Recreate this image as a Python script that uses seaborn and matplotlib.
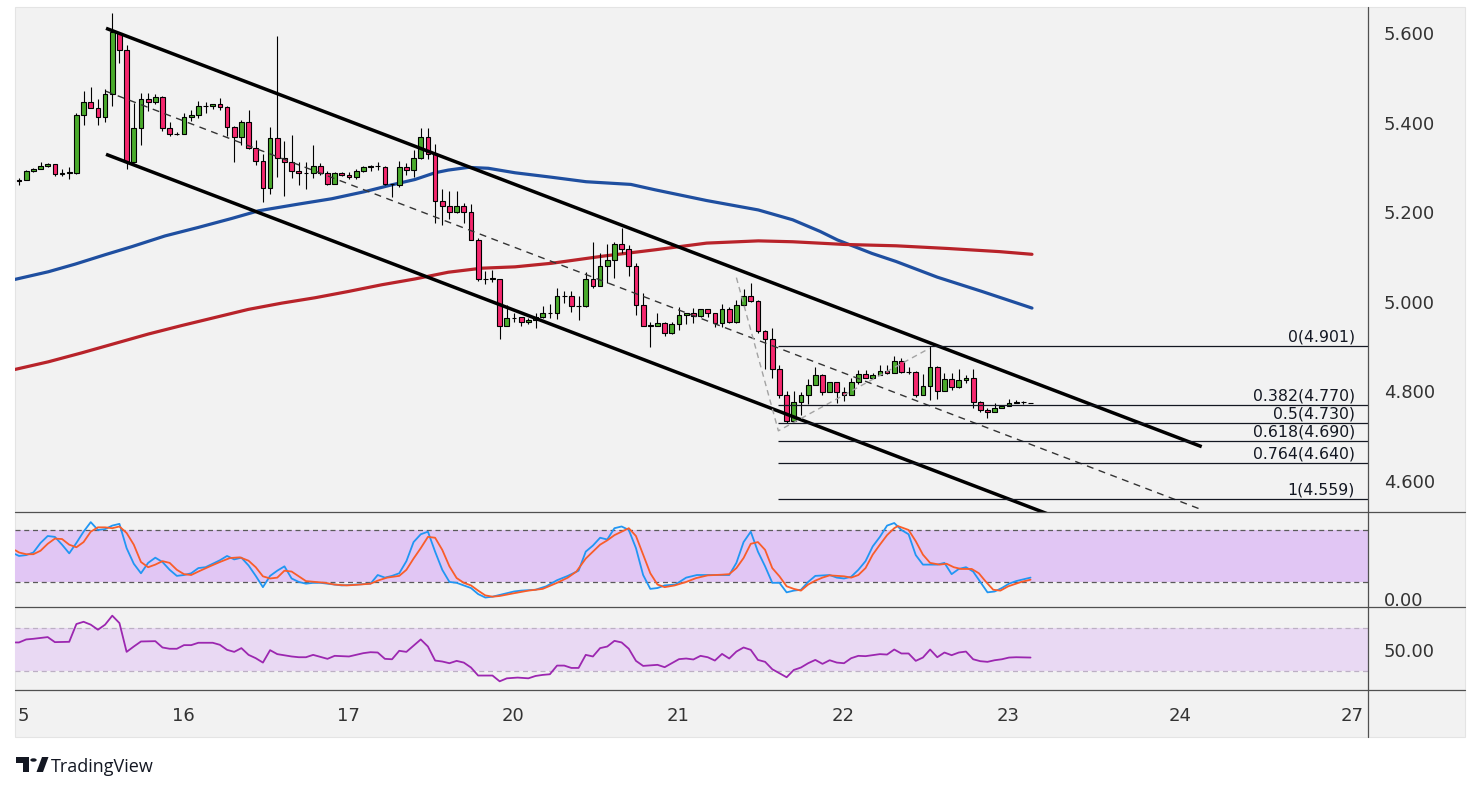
import numpy as np
import seaborn as sns
import matplotlib.pyplot as plt
from matplotlib.patches import Rectangle, Polygon, Circle
from matplotlib.lines import Line2D
from matplotlib.transforms import Bbox, TransformedBbox

# hourly candles, bar index 0..141
opens = [5.271, 5.271, 5.291, 5.296, 5.303, 5.307, 5.286, 5.287, 5.288, 5.418,
         5.445, 5.432, 5.412, 5.463, 5.601, 5.562, 5.313, 5.387, 5.452, 5.447,
         5.456, 5.387, 5.374, 5.374, 5.413, 5.416, 5.436, 5.436, 5.441, 5.434,
         5.390, 5.368, 5.401, 5.343, 5.314, 5.253, 5.365, 5.320, 5.311, 5.291,
         5.287, 5.287, 5.302, 5.287, 5.264, 5.287, 5.282, 5.279, 5.291, 5.300,
         5.302, 5.300, 5.262, 5.260, 5.300, 5.294, 5.322, 5.367, 5.330, 5.224,
         5.213, 5.200, 5.213, 5.200, 5.139, 5.050, 5.051, 5.051, 4.945, 4.963,
         4.965, 4.954, 4.959, 4.967, 4.974, 4.974, 5.012, 5.012, 4.990, 4.990,
         5.050, 5.035, 5.081, 5.093, 5.128, 5.117, 5.081, 4.992, 4.947, 4.947,
         4.952, 4.931, 4.950, 4.970, 4.974, 4.968, 4.983, 4.974, 4.952, 4.985,
         4.954, 4.992, 5.012, 5.001, 4.934, 4.918, 4.851, 4.791, 4.735, 4.776,
         4.791, 4.814, 4.836, 4.798, 4.820, 4.798, 4.793, 4.822, 4.838, 4.831,
         4.836, 4.845, 4.840, 4.867, 4.843, 4.843, 4.793, 4.811, 4.854, 4.800,
         4.827, 4.809, 4.825, 4.831, 4.776, 4.758, 4.753, 4.762, 4.767, 4.773,
         4.776, 4.774]
highs = [5.277, 5.294, 5.298, 5.311, 5.309, 5.307, 5.297, 5.300, 5.421, 5.471,
         5.479, 5.452, 5.474, 5.645, 5.602, 5.573, 5.444, 5.465, 5.466, 5.463,
         5.460, 5.401, 5.379, 5.421, 5.428, 5.448, 5.447, 5.441, 5.454, 5.437,
         5.393, 5.406, 5.428, 5.361, 5.331, 5.391, 5.593, 5.359, 5.372, 5.313,
         5.311, 5.349, 5.309, 5.293, 5.289, 5.290, 5.290, 5.296, 5.303, 5.306,
         5.312, 5.302, 5.264, 5.314, 5.309, 5.339, 5.389, 5.389, 5.352, 5.251,
         5.247, 5.247, 5.221, 5.218, 5.142, 5.069, 5.072, 5.051, 4.993, 4.974,
         4.965, 4.963, 4.974, 4.991, 4.995, 5.031, 5.024, 5.023, 5.012, 5.066,
         5.134, 5.110, 5.129, 5.134, 5.164, 5.126, 5.086, 5.020, 4.954, 4.974,
         4.954, 4.954, 4.988, 4.976, 4.986, 4.985, 4.985, 4.974, 4.994, 4.988,
         5.004, 5.028, 5.043, 5.004, 4.936, 4.941, 4.858, 4.800, 4.800, 4.798,
         4.827, 4.854, 4.838, 4.820, 4.822, 4.809, 4.829, 4.847, 4.847, 4.840,
         4.860, 4.860, 4.878, 4.874, 4.854, 4.845, 4.838, 4.901, 4.856, 4.840,
         4.840, 4.849, 4.836, 4.851, 4.778, 4.762, 4.773, 4.769, 4.782, 4.780,
         4.778, 4.775]
lows = [5.260, 5.271, 5.290, 5.296, 5.301, 5.281, 5.281, 5.275, 5.285, 5.395,
        5.432, 5.395, 5.402, 5.436, 5.532, 5.297, 5.309, 5.349, 5.425, 5.441,
        5.381, 5.369, 5.372, 5.374, 5.404, 5.411, 5.421, 5.430, 5.428, 5.371,
        5.311, 5.349, 5.340, 5.305, 5.222, 5.240, 5.279, 5.237, 5.276, 5.261,
        5.251, 5.276, 5.283, 5.260, 5.264, 5.281, 5.273, 5.273, 5.290, 5.291,
        5.294, 5.260, 5.235, 5.257, 5.282, 5.279, 5.318, 5.319, 5.175, 5.171,
        5.185, 5.198, 5.175, 5.137, 5.047, 5.039, 5.044, 4.916, 4.945, 4.956,
        4.946, 4.950, 4.942, 4.963, 4.964, 4.962, 4.997, 4.977, 4.960, 4.988,
        5.031, 5.035, 5.041, 5.054, 5.110, 5.058, 4.970, 4.947, 4.900, 4.947,
        4.924, 4.929, 4.937, 4.950, 4.952, 4.965, 4.967, 4.943, 4.943, 4.953,
        4.952, 4.988, 5.000, 4.930, 4.849, 4.831, 4.786, 4.729, 4.733, 4.747,
        4.771, 4.814, 4.793, 4.798, 4.773, 4.778, 4.793, 4.816, 4.829, 4.829,
        4.836, 4.838, 4.840, 4.840, 4.838, 4.787, 4.791, 4.780, 4.782, 4.800,
        4.802, 4.807, 4.818, 4.764, 4.753, 4.740, 4.753, 4.762, 4.767, 4.773,
        4.771, 4.773]
closes = [5.270, 5.291, 5.296, 5.302, 5.308, 5.285, 5.287, 5.289, 5.418, 5.445,
          5.432, 5.412, 5.463, 5.602, 5.562, 5.313, 5.387, 5.452, 5.447, 5.456,
          5.387, 5.374, 5.374, 5.413, 5.417, 5.436, 5.436, 5.441, 5.434, 5.390,
          5.368, 5.401, 5.343, 5.314, 5.253, 5.365, 5.320, 5.311, 5.291, 5.287,
          5.287, 5.302, 5.287, 5.264, 5.287, 5.282, 5.279, 5.291, 5.300, 5.302,
          5.302, 5.262, 5.262, 5.300, 5.294, 5.322, 5.367, 5.330, 5.224, 5.213,
          5.200, 5.213, 5.200, 5.139, 5.050, 5.051, 5.052, 4.945, 4.963, 4.964,
          4.954, 4.959, 4.967, 4.974, 4.975, 5.012, 5.012, 4.990, 4.990, 5.050,
          5.035, 5.081, 5.093, 5.128, 5.117, 5.081, 4.992, 4.947, 4.947, 4.952,
          4.931, 4.950, 4.970, 4.974, 4.968, 4.983, 4.974, 4.952, 4.985, 4.954,
          4.992, 5.012, 5.001, 4.934, 4.918, 4.851, 4.791, 4.735, 4.776, 4.791,
          4.814, 4.836, 4.798, 4.820, 4.798, 4.793, 4.822, 4.838, 4.831, 4.836,
          4.845, 4.840, 4.867, 4.843, 4.843, 4.793, 4.811, 4.854, 4.800, 4.827,
          4.809, 4.825, 4.831, 4.776, 4.758, 4.753, 4.762, 4.767, 4.773, 4.776,
          4.776, 4.774]

# moving averages (sampled along the curve)
ma_blue_x = [-0.56, 4.08, 7.81, 11.99, 15.71, 20.35, 24.99, 29.65, 33.36, 38.93, 43.59, 48.23,
             51.95, 55.2, 57.99, 59.84, 62.63, 65.42, 69.14, 74.25, 79.05, 85.29, 88.65, 95.85,
             103.05, 107.85, 111.68, 114.09, 118.89, 122.25, 128.0, 134.25, 141.2]
ma_blue = [5.050, 5.067, 5.084, 5.105, 5.123, 5.147, 5.166, 5.186, 5.203, 5.218, 5.230, 5.246,
           5.261, 5.273, 5.288, 5.294, 5.300, 5.298, 5.288, 5.278, 5.268, 5.262, 5.250, 5.226,
           5.205, 5.183, 5.157, 5.138, 5.108, 5.090, 5.055, 5.023, 4.986]
ma_red_x = [-0.56, 4.08, 8.74, 13.38, 18.02, 22.68, 27.32, 31.96, 36.62, 41.26, 45.9, 50.56,
            55.2, 59.84, 64.5, 69.14, 74.25, 81.45, 88.65, 95.85, 103.05, 107.85, 115.05,
            122.25, 129.45, 136.65, 141.2]
ma_red = [4.849, 4.866, 4.886, 4.907, 4.928, 4.947, 4.965, 4.983, 4.997, 5.009, 5.023, 5.038,
          5.051, 5.066, 5.075, 5.078, 5.086, 5.102, 5.116, 5.131, 5.136, 5.134, 5.128,
          5.125, 5.119, 5.112, 5.106]

# stochastic %K / %D
k_x = [-0.5, 0, 1, 2, 3, 4, 5, 6, 7, 8, 9, 10, 11, 12, 13, 14, 15, 16, 17, 18, 19, 20, 21, 22, 23, 24,
       25, 26, 27, 28, 29, 30, 31, 32, 33, 34, 35, 36, 37, 38, 39, 40, 41, 42, 43, 44, 45, 47, 49, 50,
       51, 52, 53, 54, 55, 56, 57, 58, 59, 60, 61, 62, 63, 64, 65, 66, 67, 68, 69, 70, 72, 73.5, 75,
       76.5, 78, 79, 80, 81, 82, 83, 84, 85, 86, 87, 88, 89, 90, 91.5, 93, 94.5, 96, 97, 99, 100, 101,
       102, 103, 104, 105, 106, 107, 108, 109, 110, 111, 113, 114, 115, 116, 117, 118, 119, 120, 121,
       122, 123, 124, 125, 126, 128, 129, 130, 131, 132, 133, 134, 135, 136, 137, 138, 139, 141]
k_val = [52, 50, 51, 54, 65, 73, 72, 63, 53, 65, 78, 89, 80, 81, 85, 87, 59, 41, 30, 42,
         48, 43, 34, 27, 28, 30, 36, 37, 41, 45, 50, 46, 48, 39, 27, 14, 27, 33, 38, 24,
         20, 18, 19, 19, 18, 17, 16, 17, 18, 28, 25, 27, 30, 44, 66, 75, 78, 55, 34, 20,
         19, 16, 13, 6, 2, 3, 5, 7, 9, 10, 11, 15, 22, 27, 33, 55, 62, 71, 69, 82,
         84, 80, 59, 28, 12, 13, 16, 17, 25, 28, 28, 28, 28, 42, 66, 78, 55, 38, 19, 19,
         8, 10, 11, 20, 27, 28, 25, 24, 26, 34, 44, 61, 72, 85, 88, 80, 75, 51, 40, 40,
         42, 29, 35, 37, 32, 20, 8, 9, 13, 18, 21, 25]
d_x = [-0.5, 0, 1, 2, 3, 4, 5, 6, 7, 8, 9, 10, 11, 12, 13, 14, 15, 16, 17, 18, 19, 20, 21, 22, 23, 24,
       25, 26.6, 28, 29.4, 30.8, 32, 33, 34, 35, 36, 37, 38, 39, 40, 41.3, 42.7, 44, 45.7, 47.5, 49, 50,
       51.3, 53, 54, 55, 56, 57, 58, 59, 60, 61, 62, 63, 64, 65, 66, 67, 69, 71, 73, 75, 76.5, 77.7, 79,
       80, 81, 82, 83, 84, 85, 86, 87, 88, 89, 90, 91.4, 93, 94.4, 96, 98, 99, 100, 101, 102, 103, 104,
       105, 106, 107, 108, 109, 110, 111, 112, 113, 115, 116, 117, 118, 119, 120, 121, 122, 122.5, 124,
       125, 126, 127, 128.3, 129.3, 130.3, 131.3, 132.8, 133.8, 134.8, 135.8, 136.8, 137.9, 139.7, 141]
d_val = [56.5, 54, 52, 52, 56, 64, 70, 69.5, 63, 60, 66, 78, 83, 83, 82, 84, 76.5, 63, 43, 37,
         40, 44, 42, 34, 29, 28, 32, 38, 43, 47.6, 48.4, 44.5, 37, 26.5, 24, 25, 33, 32, 26.5, 21,
         20, 19, 17, 16, 17, 18, 21.5, 25, 27, 34, 47, 59, 72, 71, 57, 38, 24.5, 19, 16, 10,
         4.5, 3, 3.8, 7, 10, 12, 19, 25, 32, 47, 55, 63, 68, 74, 78, 82, 73, 51.5, 30, 17,
         14, 16, 20, 24.5, 27.6, 28.4, 29, 36, 47.6, 64, 66, 57, 36, 26.5, 15, 12, 10, 17, 21.5, 25,
         27.6, 26.5, 25, 28, 36, 51.5, 63, 74, 82, 84.5, 80, 67, 51.5, 42, 40, 41, 37, 35, 35, 30,
         20, 11, 10, 15, 20, 22.6]

# RSI
rsi_x = [-0.5, 0, 1, 2, 4, 5, 7, 8, 9, 10, 11, 12, 13, 14, 15, 16, 17, 19, 20, 21, 22, 23, 24, 25, 27,
         28, 29, 30, 31, 32, 33, 34, 35, 36, 38, 39, 40, 41, 42, 43, 44, 46, 47, 48, 49, 50, 51, 52, 53,
         54, 56, 57, 58, 59, 60, 61, 62, 63, 64, 66, 67, 68, 69.5, 71, 72, 73, 74, 75, 76, 77, 78, 79,
         80, 81, 82, 83, 84, 85, 86, 87, 89, 90, 92, 93, 94, 95, 96, 97, 98, 99, 100, 101, 102, 103,
         104, 105, 106, 107, 108, 109, 110, 111, 112, 113, 114, 115, 116, 117, 118, 120, 121, 122, 123,
         124, 125, 126, 127, 128, 129, 130, 131, 132, 133, 134, 135, 136, 137, 138, 139, 141]
rsi_val = [56.6, 56.6, 59.4, 60, 61.6, 56.9, 57.2, 73.8, 75.9, 73.2, 68.5, 73.2, 81.6, 74.7, 47.8,
           52.8, 57.5, 57.8, 51.9, 50.7, 50.7, 54.1, 54.1, 56.3, 56.3, 54.4, 49.7, 47.8, 51.3, 45.0,
           41.9, 37.8, 49.4, 45.7, 43.5, 42.8, 42.8, 45.0, 43.2, 41.3, 44.1, 43.5, 45.0, 46.6, 47.5,
           47.2, 41.3, 40.9, 48.8, 47.8, 59.4, 52.8, 39.7, 38.8, 37.2, 39.4, 37.8, 33.2, 25.7, 25.7,
           20.3, 23.1, 23.8, 23.1, 25.3, 26.3, 26.9, 35.0, 35.0, 32.8, 32.8, 45.0, 43.5, 51.3, 52.8,
           58.1, 56.6, 50.7, 39.4, 34.7, 35.7, 33.5, 41.0, 41.6, 40.7, 44.1, 42.8, 39.7, 45.9, 41.6,
           48.1, 51.9, 49.7, 40.3, 38.5, 31.6, 27.8, 24.1, 30.9, 33.2, 37.2, 40.3, 36.6, 40.0, 37.8,
           37.2, 41.9, 44.1, 43.8, 45.7, 45.3, 50.0, 46.3, 46.3, 39.4, 42.5, 50.0, 42.8, 47.2, 44.7,
           47.2, 48.1, 40.9, 39.1, 38.5, 40.0, 40.9, 42.5, 42.8, 42.5]

# drawings: channel, ABC swing and fib extension
channel_x = [12.13, 164.86]
channel_upper = [5.6105, 4.6766]
channel_lower = [5.3292, 4.3953]
abc_x = [100.0, 105.85, 126.9]
abc_price = [5.054, 4.712, 4.896]
fib_ratios = [0, 0.382, 0.5, 0.618, 0.764, 1]
fib_prices = [4.901, 4.770, 4.730, 4.690, 4.640, 4.559]

price_ticks = [4.6, 4.8, 5.0, 5.2, 5.4, 5.6]
date_ticks = [0.6, 22.86, 45.86, 68.86, 91.86, 114.86, 137.86, 161.8, 185.8]
date_labels = ["5", "16", "17", "20", "21", "22", "23", "24", "27"]

sns.set_theme(style="white")
plt.rcParams['font.family'] = ['DejaVu Sans']

W, H = 1479, 791


def fx(px):
    return px / W


def fy(py):
    return 1 - py / H


fig = plt.figure(figsize=(W / 100, H / 100), dpi=100)
fig.patch.set_facecolor('white')
fig.add_artist(Rectangle((fx(15), fy(737)), fx(1465) - fx(15), fy(7) - fy(737),
                         transform=fig.transFigure, facecolor='#f2f2f2',
                         edgecolor='#e4e4e4', lw=0.8, zorder=-5))

left, width = fx(15), fx(1368) - fx(15)
ax = fig.add_axes([left, fy(512), width, fy(7) - fy(512)])
ax_st = fig.add_axes([left, fy(607), width, fy(512) - fy(607)])
ax_rsi = fig.add_axes([left, fy(690), width, fy(607) - fy(690)])

xmin, xmax = -0.558, 188.04
text_col = '#333333'
for a in (ax, ax_st, ax_rsi):
    a.set_facecolor('none')
    for s in a.spines.values():
        s.set_visible(False)
    a.set_xlim(xmin, xmax)
    a.yaxis.tick_right()
    a.tick_params(axis='y', length=0, pad=11.5, labelsize=13, labelcolor=text_col)
    a.tick_params(axis='x', length=0)
    a.set_xticks([])
    a.grid(False)

# ---- main price panel
ax.set_ylim(4.5308, 5.658)
ax.set_yticks(price_ticks)
ax.set_yticklabels([f"{p:.3f}" for p in price_ticks])

sns.lineplot(x=ma_blue_x, y=ma_blue, ax=ax, color='#1f4fa0', lw=2.3, zorder=2)
sns.lineplot(x=ma_red_x, y=ma_red, ax=ax, color='#b8232a', lw=2.3, zorder=2)

idx = np.arange(len(opens))
o = np.array(opens)
c = np.array(closes)
up = c >= o
body_col = np.where(up, '#4aab2c', '#f5286e')
ax.vlines(idx, lows, highs, color='black', lw=0.8, zorder=3)
ax.bar(idx, np.maximum(np.abs(c - o), 0.0008), bottom=np.minimum(o, c), width=0.66,
       color=body_col, edgecolor='black', linewidth=0.8, zorder=4)

# channel
ax.plot(channel_x, channel_upper, color='black', lw=2.5, solid_capstyle='butt', zorder=5)
ax.plot(channel_x, channel_lower, color='black', lw=2.5, solid_capstyle='butt', zorder=5)
mid = [(u + l) / 2 for u, l in zip(channel_upper, channel_lower)]
ax.plot(channel_x, mid, color='#333333', lw=1.0, ls=(0, (5, 4)), zorder=5)

# ABC swing + fib levels
ax.plot(abc_x, abc_price, color='#a3a3a3', lw=1.0, ls=(0, (4, 3)), zorder=5)
ax.hlines(fib_prices, abc_x[1], xmax, color='#131722', lw=0.9, zorder=5)
for r, p in zip(fib_ratios, fib_prices):
    ax.annotate(f"{r:g}({p:.3f})", xy=(186.2, p), xytext=(0, 3.3), textcoords='offset points',
                ha='right', va='baseline', fontsize=11.3, color='#131722', zorder=6)

# ---- stochastic panel
ax_st.set_ylim(-8.9, 100.7)
ax_st.axhspan(20, 80, color='#e1c6f4', lw=0, zorder=0)
for lvl in (20, 80):
    ax_st.axhline(lvl, color='#5a5a5a', lw=0.9, ls=(0, (4, 3)), zorder=1)
sns.lineplot(x=k_x, y=k_val, ax=ax_st, color='#2196f3', lw=1.3, zorder=3)
sns.lineplot(x=d_x, y=d_val, ax=ax_st, color='#f95d2a', lw=1.3, zorder=3)
ax_st.set_yticks([])
# the 0.00 label is cut by the panel border, as on the price scale
st_label = ax_st.annotate("0.00", xy=(1.0, 0), xycoords=('axes fraction', 'data'),
                          xytext=(11.5, 0), textcoords='offset points', ha='left',
                          va='center_baseline', fontsize=13, color=text_col,
                          annotation_clip=False)
st_label.set_clip_box(TransformedBbox(Bbox([[fx(1368), fy(607)], [1.0, fy(512)]]),
                                      fig.transFigure))
st_label.set_clip_on(True)

# ---- RSI panel
ax_rsi.set_ylim(12.2, 89.7)
ax_rsi.axhspan(30, 70, color='#e9d9f3', lw=0, zorder=0)
for lvl in (30, 70):
    ax_rsi.axhline(lvl, color='#bcb0c4', lw=0.9, ls=(0, (4, 3)), zorder=1)
sns.lineplot(x=rsi_x, y=rsi_val, ax=ax_rsi, color='#9c27b0', lw=1.3, zorder=3)
ax_rsi.set_yticks([50])
ax_rsi.set_yticklabels(["50.00"])
ax_rsi.set_xticks(date_ticks)
ax_rsi.set_xticklabels(date_labels)
ax_rsi.tick_params(axis='x', length=0, pad=12, labelsize=13, labelcolor=text_col)

for a in (ax, ax_st, ax_rsi):
    a.set_xlabel('')
    a.set_ylabel('')

# panel separators
sep = '#505050'
for yy in (512, 607, 690):
    fig.add_artist(Line2D([fx(15), fx(1465)], [fy(yy), fy(yy)], color=sep, lw=0.9, zorder=10))
fig.add_artist(Line2D([fx(1368), fx(1368)], [fy(7), fy(737)], color=sep, lw=0.9, zorder=10))

# TradingView logo
logo = '#131722'
t_shape = [(16, 757), (29, 757), (29, 772), (23, 772), (23, 763), (16, 763)]
fig.add_artist(Polygon([(fx(x), fy(y)) for x, y in t_shape], closed=True,
                       transform=fig.transFigure, facecolor=logo, edgecolor='none'))
fig.add_artist(Circle((fx(33.5), fy(760)), 3.2 / W, transform=fig.transFigure,
                      facecolor=logo, edgecolor='none'))
slash = [(36.5, 772), (42, 757), (48.5, 757), (43, 772)]
fig.add_artist(Polygon([(fx(x), fy(y)) for x, y in slash], closed=True,
                       transform=fig.transFigure, facecolor=logo, edgecolor='none'))
fig.text(fx(51), fy(772), "TradingView", fontsize=13, color=logo, ha='left', va='baseline',
         family=['Open Sans', 'DejaVu Sans'])

fig.savefig('out.png', dpi=100)
